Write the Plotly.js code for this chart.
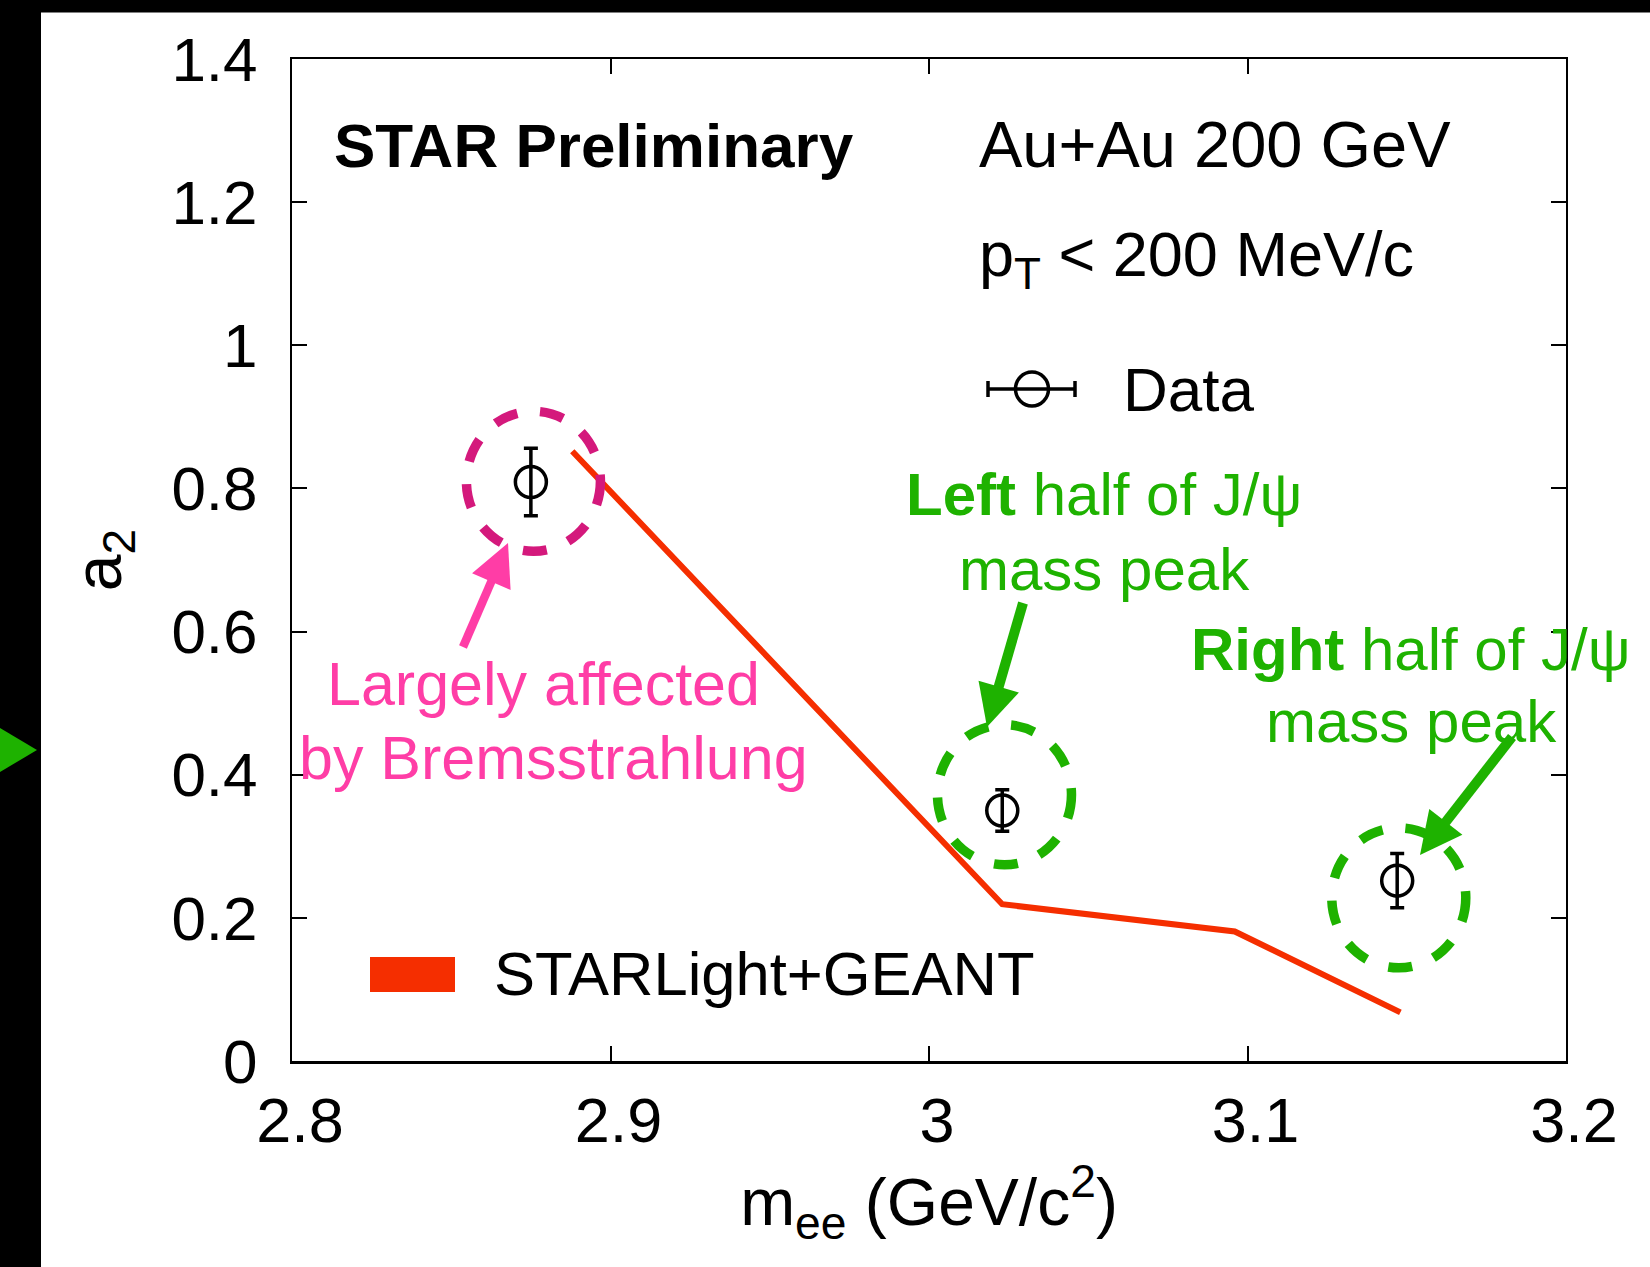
<!DOCTYPE html>
<html><head><meta charset="utf-8">
<script src="https://cdn.plot.ly/plotly-3.0.1.min.js"></script>
<style>html,body{margin:0;padding:0;background:#fff;} #chart{width:1650px;height:1267px;}</style>
</head><body><div id="chart"></div>
<script>
// ---- data ----
const massData = [2.875, 3.023, 3.147];
const a2Data   = [0.809, 0.350, 0.252];
const a2Err    = [0.047, 0.029, 0.038];

const massModel = [2.888, 3.023, 3.096, 3.148];
const a2Model   = [0.852, 0.219, 0.181, 0.068];

const xTickVals = [2.8, 2.9, 3.0, 3.1, 3.2];
const xTickText = ['2.8', '2.9', '3', '3.1', '3.2'];
const yTickVals = [0, 0.2, 0.4, 0.6, 0.8, 1.0, 1.2, 1.4];
const yTickText = ['0', '0.2', '0.4', '0.6', '0.8', '1', '1.2', '1.4'];

// highlight rings (data coords)
const ringX = [2.8758, 3.0237, 3.1475];
const ringY = [0.810, 0.372, 0.228];
const ringColor = ['#D4197C', '#1EB200', '#1EB200'];

// ---- layout geometry ----
const W = 1650, H = 1267;
const ML = 292, MR = 84, MT = 59, MB = 206;
const PW = W - ML - MR, PH = H - MT - MB;
const PX = px => (px - ML) / PW;
const PY = py => (H - MB - py) / PH;

const FONT = 'Liberation Sans, Arial, Helvetica, sans-serif';
const RED = '#F52E00';
const GREEN = '#1EB200';
const PINK = '#FF3DA6';

// annotation arrows: tail and tip in page pixels
const arrows = [
  {tail: [463, 647], tip: [508, 543], color: PINK, w: 8.5},
  {tail: [1023, 603], tip: [987, 727], color: GREEN, w: 10},
  {tail: [1512, 737], tip: [1420, 855], color: GREEN, w: 10}
];

const traces = [
  {
    x: massModel, y: a2Model, type: 'scatter', mode: 'lines',
    name: 'STARLight+GEANT', showlegend: false,
    line: {color: RED, width: 6}
  },
  {
    x: massData, y: a2Data, type: 'scatter', mode: 'markers',
    name: 'Data', showlegend: false,
    marker: {symbol: 'circle-open', size: 31, color: 'black', line: {color: 'black', width: 3.5}},
    error_y: {type: 'data', array: a2Err, visible: true, color: 'black', thickness: 3.5, width: 7}
  }
];

const shapes = [];
// black frame strips + green pointer (slide decoration)
shapes.push({type: 'rect', xref: 'paper', yref: 'paper', x0: PX(0), x1: PX(41), y0: PY(H), y1: PY(0), fillcolor: 'black', line: {width: 0}});
shapes.push({type: 'rect', xref: 'paper', yref: 'paper', x0: PX(0), x1: PX(W), y0: PY(12.6), y1: PY(0), fillcolor: 'black', line: {width: 0}});
shapes.push({type: 'path', xref: 'paper', yref: 'paper',
  path: `M ${PX(0)} ${PY(728)} L ${PX(37)} ${PY(750)} L ${PX(0)} ${PY(772)} Z`,
  fillcolor: GREEN, line: {width: 0}});
// dashed rings
for (let i = 0; i < ringX.length; i++) {
  shapes.push({type: 'circle', xref: 'x', yref: 'y',
    xsizemode: 'pixel', ysizemode: 'pixel', xanchor: ringX[i], yanchor: ringY[i],
    x0: -67, x1: 67, y0: -70, y1: 70,
    line: {color: ringColor[i], width: 9.5, dash: '24px,23px'}});
}
// arrows (shaft + head)
arrows.forEach(a => {
  const dx = a.tip[0] - a.tail[0], dy = a.tip[1] - a.tail[1];
  const len = Math.hypot(dx, dy), ux = dx / len, uy = dy / len;
  const L = 42, HW = 21;
  const bx = a.tip[0] - ux * L, by = a.tip[1] - uy * L;
  const nx = -uy, ny = ux;
  shapes.push({type: 'line', xref: 'paper', yref: 'paper',
    x0: PX(a.tail[0]), y0: PY(a.tail[1]), x1: PX(bx + ux * 4), y1: PY(by + uy * 4),
    line: {color: a.color, width: a.w}});
  shapes.push({type: 'path', xref: 'paper', yref: 'paper',
    path: `M ${PX(a.tip[0])} ${PY(a.tip[1])} L ${PX(bx + nx * HW)} ${PY(by + ny * HW)} L ${PX(bx - nx * HW)} ${PY(by - ny * HW)} Z`,
    fillcolor: a.color, line: {width: 0}});
});
// legend glyphs
shapes.push({type: 'line', xref: 'paper', yref: 'paper', x0: PX(988), x1: PX(1075), y0: PY(389), y1: PY(389), line: {color: 'black', width: 3.5}});
shapes.push({type: 'line', xref: 'paper', yref: 'paper', x0: PX(988), x1: PX(988), y0: PY(381), y1: PY(397), line: {color: 'black', width: 3.5}});
shapes.push({type: 'line', xref: 'paper', yref: 'paper', x0: PX(1075), x1: PX(1075), y0: PY(381), y1: PY(397), line: {color: 'black', width: 3.5}});
shapes.push({type: 'circle', xref: 'paper', yref: 'paper', x0: PX(1015.5), x1: PX(1048.5), y0: PY(406), y1: PY(372), line: {color: 'black', width: 3.5}});
shapes.push({type: 'rect', xref: 'paper', yref: 'paper', x0: PX(370), x1: PX(455), y0: PY(992), y1: PY(957), fillcolor: RED, line: {width: 0}});

const ann = [];
function txt(text, px, py, size, color, xanchor) {
  ann.push({text: text, xref: 'paper', yref: 'paper', x: PX(px), y: PY(py),
    xanchor: xanchor, yanchor: 'middle', showarrow: false,
    font: {family: FONT, size: size, color: color}});
}
txt('<b>STAR Preliminary</b>', 332, 146, 62, 'black', 'left');
txt('Au+Au 200 GeV', 977, 144, 65, 'black', 'left');
txt('p<sub>T</sub> &lt; 200 MeV/c', 977, 258, 63, 'black', 'left');
txt('Data', 1121, 389, 62, 'black', 'left');
txt('STARLight+GEANT', 492, 973, 61.5, 'black', 'left');
txt('<b>Left</b> half of J/ψ', 1104, 494, 60, GREEN, 'center');
txt('mass peak', 1104, 569, 60, GREEN, 'center');
txt('<b>Right</b> half of J/ψ', 1411, 649, 60, GREEN, 'center');
txt('mass peak', 1411, 721, 60, GREEN, 'center');
txt('Largely affected', 543, 684, 61, PINK, 'center');
txt('by Bremsstrahlung', 553, 758, 61, PINK, 'center');

const layout = {
  width: W, height: H,
  margin: {l: ML, r: MR, t: MT, b: MB, pad: 0},
  paper_bgcolor: 'white', plot_bgcolor: 'white',
  showlegend: false,
  font: {family: FONT, color: 'black'},
  xaxis: {
    range: [2.8, 3.2], tickvals: xTickVals, ticktext: xTickText,
    ticks: 'inside', ticklen: 15, tickwidth: 2, tickcolor: 'black',
    showline: true, linecolor: 'black', linewidth: 2.5, mirror: 'ticks',
    showgrid: false, zeroline: false,
    tickfont: {family: FONT, size: 63, color: 'black'},
    ticklabelshift: 8, ticklabelstandoff: 3,
    title: {text: 'm<sub>ee</sub> (GeV/c<sup>2</sup>)', font: {family: FONT, size: 66, color: 'black'}, standoff: 20}
  },
  yaxis: {
    range: [0, 1.4], tickvals: yTickVals, ticktext: yTickText,
    ticks: 'inside', ticklen: 15, tickwidth: 2, tickcolor: 'black',
    showline: true, linecolor: 'black', linewidth: 2, mirror: 'ticks',
    showgrid: false, zeroline: false,
    tickfont: {family: FONT, size: 62, color: 'black'},
    ticklabelstandoff: 20,
    title: {text: 'a<sub>2</sub>', font: {family: FONT, size: 66, color: 'black'}, standoff: 28}
  },
  shapes: shapes,
  annotations: ann
};

Plotly.newPlot('chart', traces, layout, {displayModeBar: false, staticPlot: true});
</script>
</body></html>
